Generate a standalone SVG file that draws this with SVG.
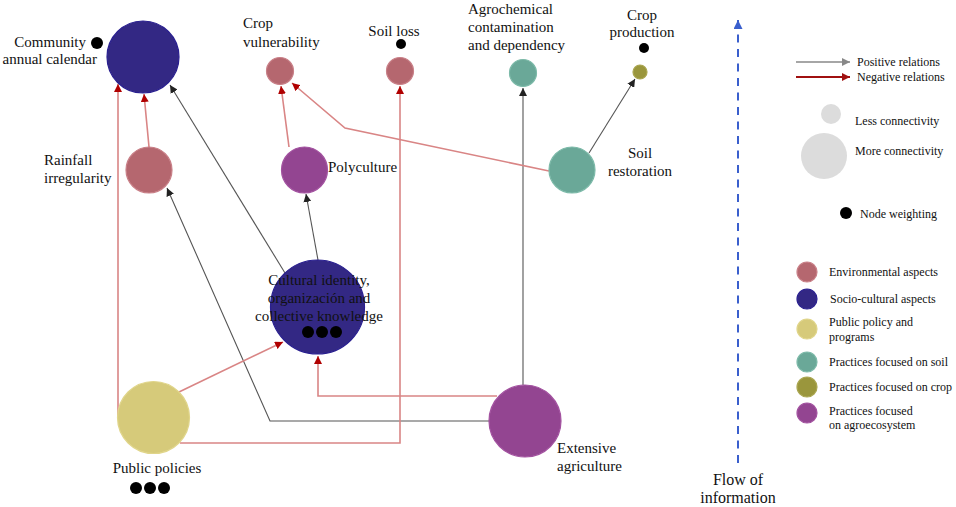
<svg xmlns="http://www.w3.org/2000/svg" width="956" height="507" viewBox="0 0 956 507">
<defs>
<marker id="ap" markerUnits="userSpaceOnUse" markerWidth="9" markerHeight="8" refX="8" refY="4" orient="auto"><path d="M0,0 L8,4 L0,8 z" fill="#222"/></marker>
<marker id="an" markerUnits="userSpaceOnUse" markerWidth="9" markerHeight="8" refX="8" refY="4" orient="auto"><path d="M0,0 L8,4 L0,8 z" fill="#b00000"/></marker>
<marker id="lp" markerUnits="userSpaceOnUse" markerWidth="9" markerHeight="8" refX="8" refY="4" orient="auto"><path d="M0,0 L8,4 L0,8 z" fill="#888"/></marker>
<marker id="ln" markerUnits="userSpaceOnUse" markerWidth="9" markerHeight="8" refX="8" refY="4" orient="auto"><path d="M0,0 L8,4 L0,8 z" fill="#a01010"/></marker>
<marker id="af" markerUnits="userSpaceOnUse" markerWidth="10" markerHeight="9" refX="9" refY="4.5" orient="auto"><path d="M0,0 L9,4.5 L0,9 z" fill="#3a5fcd"/></marker>
</defs>
<style>
text{font-family:"Liberation Serif","Times New Roman",serif;fill:#111}
.n{font-size:15px}
.l{font-size:12px}
.env{fill:#b5676f;stroke:#c98088;stroke-width:1.2}
.soc{fill:#332884;stroke:#2a2090;stroke-width:1.2}
.pub{fill:#d6ca7a;stroke:#e0d58a;stroke-width:1.2}
.soi{fill:#6aa898;stroke:#7dbaa9;stroke-width:1.2}
.crp{fill:#9a963c;stroke:#aaa650;stroke-width:1.2}
.agr{fill:#934591;stroke:#a352a0;stroke-width:1.2}
.pos{fill:none;stroke:#555;stroke-width:1.1;marker-end:url(#ap)}
.neg{fill:none;stroke:#d98585;stroke-width:1.6;marker-end:url(#an)}
.dot{fill:#000}
</style>
<rect width="956" height="507" fill="#fff"/>

<g id="connectors">
<path class="neg" d="M149,147 L144,94"/>
<path class="neg" d="M118,417 L118,84"/>
<path class="pos" d="M285,273 L170,85"/>
<path class="pos" d="M489,421 L270,421 L167,188"/>
<path class="neg" d="M497,396 L318,396 L318,356"/>
<path class="pos" d="M523,385 L523,88"/>
<path class="neg" d="M180,443 L400,443 L400,86"/>
<path class="neg" d="M179,392 L283,342"/>
<path class="pos" d="M318,260 L306,194"/>
<path class="neg" d="M289,147 L281,86"/>
<path class="neg" d="M549,171 L345,128 L292,83"/>
<path class="pos" d="M589,153 L635,79"/>
</g>

<g id="community-calendar">
<circle class="soc" cx="143" cy="57" r="36"/>
<circle class="dot" cx="97" cy="43" r="6"/>
<text class="n" x="86" y="47" text-anchor="end">Community</text>
<text class="n" x="97" y="64" text-anchor="end">annual calendar</text>
</g>

<g id="rainfall-irregularity">
<circle class="env" cx="149" cy="170" r="23"/>
<text class="n" x="44" y="165">Rainfall</text>
<text class="n" x="44" y="183">irregularity</text>
</g>

<g id="crop-vulnerability">
<circle class="env" cx="280" cy="71" r="13.5"/>
<text class="n" x="243" y="28">Crop</text>
<text class="n" x="243" y="47">vulnerability</text>
</g>

<g id="soil-loss">
<circle class="env" cx="400" cy="71" r="13.5"/>
<circle class="dot" cx="401" cy="44" r="5"/>
<text class="n" x="394" y="36" text-anchor="middle">Soil loss</text>
</g>

<g id="agrochemical">
<circle class="soi" cx="523" cy="73" r="13.5"/>
<text class="n" x="468" y="14">Agrochemical</text>
<text class="n" x="468" y="32">contamination</text>
<text class="n" x="468" y="50">and dependency</text>
</g>

<g id="crop-production">
<circle class="crp" cx="640" cy="72" r="7"/>
<circle class="dot" cx="644" cy="48" r="5"/>
<text class="n" x="642" y="20" text-anchor="middle">Crop</text>
<text class="n" x="642" y="37" text-anchor="middle">production</text>
</g>

<g id="polyculture">
<circle class="agr" cx="304.5" cy="170" r="23"/>
<text class="n" x="328" y="172">Polyculture</text>
</g>

<g id="soil-restoration">
<circle class="soi" cx="572" cy="170" r="23"/>
<text class="n" x="640" y="158" text-anchor="middle">Soil</text>
<text class="n" x="640" y="176" text-anchor="middle">restoration</text>
</g>

<g id="cultural-identity">
<circle class="soc" cx="317.5" cy="307" r="47"/>
<text class="n" x="319" y="285" text-anchor="middle">Cultural identity,</text>
<text class="n" x="319" y="303" text-anchor="middle">organización and</text>
<text class="n" x="319" y="321" text-anchor="middle">collective knowledge</text>
<circle class="dot" cx="308" cy="332" r="6"/>
<circle class="dot" cx="322" cy="332" r="6"/>
<circle class="dot" cx="336" cy="332" r="6"/>
</g>

<g id="public-policies">
<circle class="pub" cx="153.5" cy="417.5" r="36"/>
<text class="n" x="157" y="473" text-anchor="middle">Public policies</text>
<circle class="dot" cx="136" cy="488" r="6"/>
<circle class="dot" cx="150" cy="488" r="6"/>
<circle class="dot" cx="164" cy="488" r="6"/>
</g>

<g id="extensive-agriculture">
<circle class="agr" cx="525" cy="421" r="36"/>
<text class="n" x="557" y="453">Extensive</text>
<text class="n" x="557" y="471">agriculture</text>
</g>

<g id="flow-of-information">
<line x1="738" y1="463" x2="738" y2="20" stroke="#3a5fcd" stroke-width="2" stroke-dasharray="8,6.5" marker-end="url(#af)"/>
<text x="738" y="485" font-size="16" text-anchor="middle">Flow of</text>
<text x="738" y="503" font-size="16" text-anchor="middle">information</text>
</g>

<g id="legend">
<line x1="796" y1="62" x2="850" y2="62" stroke="#888" stroke-width="1.6" marker-end="url(#lp)"/>
<text class="l" x="857" y="66">Positive relations</text>
<line x1="796" y1="77" x2="850" y2="77" stroke="#a01010" stroke-width="2" marker-end="url(#ln)"/>
<text class="l" x="857" y="81">Negative relations</text>
<circle cx="831" cy="114" r="10" fill="#dcdcdc"/>
<text class="l" x="855" y="125">Less connectivity</text>
<circle cx="824" cy="156" r="23" fill="#dcdcdc"/>
<text class="l" x="855" y="155">More connectivity</text>
<circle class="dot" cx="846" cy="213" r="6"/>
<text class="l" x="860" y="218">Node weighting</text>

<circle class="env" cx="807" cy="272" r="10"/>
<text class="l" x="829" y="276">Environmental aspects</text>
<circle class="soc" cx="807" cy="299" r="10"/>
<text class="l" x="830" y="303">Socio-cultural aspects</text>
<circle class="pub" cx="807" cy="329" r="10"/>
<text class="l" x="829" y="326">Public policy and</text>
<text class="l" x="829" y="341">programs</text>
<circle class="soi" cx="807" cy="362" r="10"/>
<text class="l" x="829" y="366">Practices focused on soil</text>
<circle class="crp" cx="807" cy="387" r="10"/>
<text class="l" x="829" y="391">Practices focused on crop</text>
<circle class="agr" cx="807" cy="413" r="10"/>
<text class="l" x="829" y="415">Practices focused</text>
<text class="l" x="829" y="429">on agroecosystem</text>
</g>
</svg>
